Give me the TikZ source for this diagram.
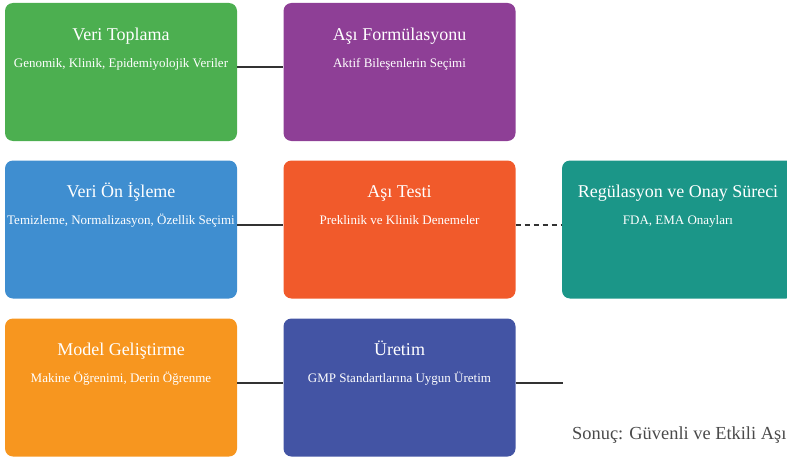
\documentclass[tikz,border=0pt]{standalone}
\usepackage{fontspec}
\setmainfont{Liberation Serif}
\usetikzlibrary{calc}

\definecolor{cGreen}{HTML}{4CAF50}
\definecolor{cPurple}{HTML}{8E3F96}
\definecolor{cBlue}{HTML}{3F8ED0}
\definecolor{cRed}{HTML}{F15A2B}
\definecolor{cTeal}{HTML}{1B9688}
\definecolor{cOrange}{HTML}{F7961F}
\definecolor{cIndigo}{HTML}{4354A4}
\definecolor{cLine}{HTML}{333333}
\definecolor{cNote}{HTML}{4A4A4A}

\tikzset{
  stage/.style={rectangle, rounded corners=8pt, minimum width=232pt,
    minimum height=138pt, inner sep=0pt, draw=none},
  stagetitle/.style={anchor=base, inner sep=0pt, text=white,
    font=\fontsize{18}{20}\selectfont},
  stagesub/.style={anchor=base, inner sep=0pt, text=white,
    font=\fontsize{13}{15}\selectfont},
  link/.style={draw=cLine, line width=1.8pt},
  dashlink/.style={link, dash pattern=on 5pt off 4pt},
}

\begin{document}
\begin{tikzpicture}[x=1pt, y=-1pt]
\useasboundingbox (0,0) rectangle (787,460);
\clip (0,0) rectangle (787,460);

% stage boxes
\node[stage, fill=cGreen]  (vt) at (121,72)     {};
\node[stage, fill=cPurple] (af) at (399.5,72)   {};
\node[stage, fill=cBlue]   (vo) at (121,229.5)  {};
\node[stage, fill=cRed]    (at) at (399.5,229.5){};
\node[stage, fill=cTeal]   (rg) at (678,229.5)  {};
\node[stage, fill=cOrange] (mg) at (121,387.5)  {};
\node[stage, fill=cIndigo] (ur) at (399.5,387.5){};

% titles and descriptions
\foreach \n/\t/\s in {
  vt/{Veri Toplama}/{Genomik, Klinik, Epidemiyolojik Veriler},
  af/{Aşı Formülasyonu}/{Aktif Bileşenlerin Seçimi},
  vo/{Veri Ön İşleme}/{Temizleme, Normalizasyon, Özellik Seçimi},
  at/{Aşı Testi}/{Preklinik ve Klinik Denemeler},
  rg/{Regülasyon ve Onay Süreci}/{FDA, EMA Onayları},
  mg/{Model Geliştirme}/{Makine Öğrenimi, Derin Öğrenme},
  ur/{Üretim}/{GMP Standartlarına Uygun Üretim}}{
  \node[stagetitle] (\n-t) at ([yshift=-37.5pt]\n.north) {\t};
  \node[stagesub]   (\n-s) at ([yshift=-64.5pt]\n.north) {\s};
}

% connectors
\coordinate (tail) at ([xshift=47pt,yshift=4.5pt]ur.east);
\draw[link] ([yshift=5pt]vt.east) -- ([yshift=5pt]af.west);
\draw[link] ([yshift=4.5pt]vo.east) -- ([yshift=4.5pt]at.west);
\draw[dashlink] ([yshift=4.5pt]at.east) -- ([yshift=4.5pt]rg.west);
\draw[link] ([yshift=4.5pt]mg.east) -- ([yshift=4.5pt]ur.west);
\draw[link] ([yshift=4.5pt]ur.east) -- (tail);

% closing note
\node[anchor=base west, inner sep=0pt, text=cNote,
  font=\fontsize{18.4}{20}\selectfont] (res) at (572,439)
  {Sonuç: Güvenli ve Etkili Aşı};
\end{tikzpicture}
\end{document}
